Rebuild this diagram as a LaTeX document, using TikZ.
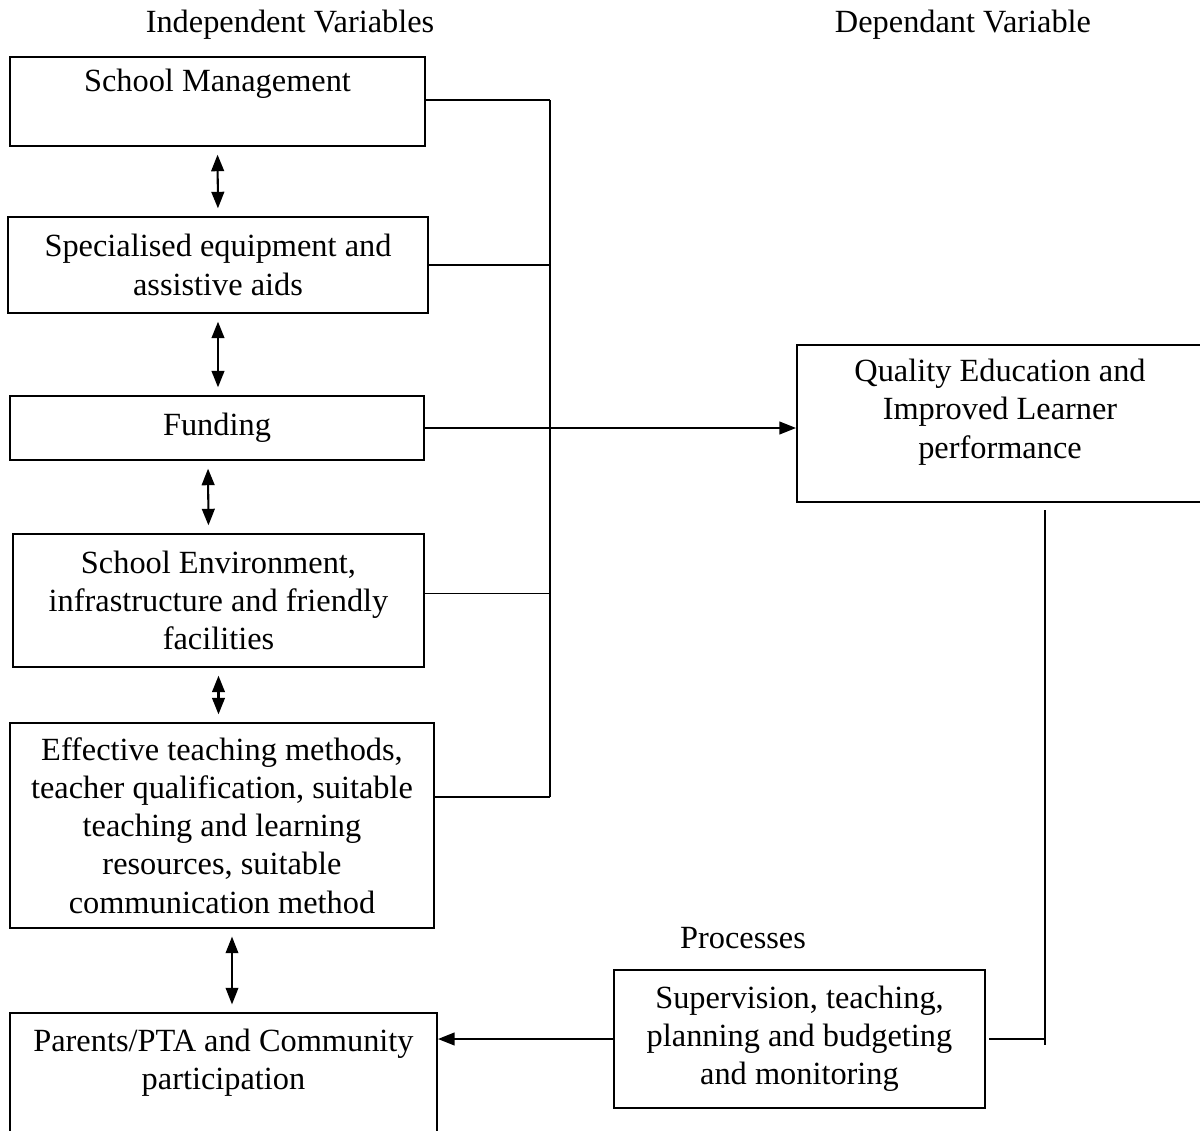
\documentclass[tikz,border=0pt]{standalone}
\usepackage{fontspec}
\setmainfont{Liberation Serif}
\usetikzlibrary{arrows.meta}

\def\pu{0.0138cm}

\tikzset{
	varbox/.style={draw, line width=0.8pt, inner sep=0pt, align=center},
	boxtext/.style={align=center, inner sep=0pt},
	link/.style={line width=0.6pt},
	duo/.style={line width=0.8pt, {Triangle[width=5pt,length=6.5pt]}-{Triangle[width=5pt,length=6.5pt]}, shorten >=3pt, shorten <=3pt},
	feed/.style={line width=0.7pt, -{Triangle[width=5pt,length=6.5pt]}}
}

\begin{document}
\begin{tikzpicture}[x=\pu, y=-\pu, font=\fontsize{12.7}{15}\selectfont]
\useasboundingbox (0,0) rectangle (1200,1131);

%Headings
\node[boxtext] (indep) at (290,25) {Independent Variables};
\node[boxtext] (dep) at (963,25) {Dependant Variable};
\node[boxtext] (proc) at (743,938) {Processes};

%Independent variables
\node[varbox, minimum width=415*\pu, minimum height=89*\pu] (sm) at (217.5,101.5) {};
\node[boxtext] (smtext) at (217.5,84) {School Management};
\node[varbox, minimum width=420*\pu, minimum height=96*\pu] (spec) at (218,265) {Specialised equipment and\\assistive aids};
\node[varbox, minimum width=414*\pu, minimum height=64*\pu] (fund) at (217,428) {Funding};
\node[varbox, minimum width=411*\pu, minimum height=133*\pu] (env) at (218.5,600.5) {School Environment,\\infrastructure and friendly\\facilities};
\node[varbox, minimum width=424*\pu, minimum height=205*\pu] (eff) at (222,825.5) {Effective teaching methods,\\teacher qualification, suitable\\teaching and learning\\resources, suitable\\communication method};
\node[varbox, minimum width=427*\pu, minimum height=122*\pu] (par) at (223.5,1074) {};
\node[boxtext] (partext) at (223.5,1062.5) {Parents/PTA and Community\\participation};

%Dependant variable and processes
\node[varbox, minimum width=408*\pu, minimum height=157*\pu] (qual) at (1001,423.5) {};
\node[boxtext] (qualtext) at (1000,412) {Quality Education and\\Improved Learner\\performance};
\node[varbox, minimum width=371*\pu, minimum height=138*\pu] (sup) at (799.5,1039) {Supervision, teaching,\\planning and budgeting\\and monitoring};

%Links between the independent variables
\draw[duo] (sm.south) -- (spec.north);
\draw[duo] (spec.south) -- (spec.south |- fund.north);
\draw[duo] ([xshift=-9*\pu]fund.south) -- ([xshift=-10*\pu]env.north);
\draw[duo] (env.south) -- (env.south |- eff.north);
\draw[duo, line width=0.6pt] ([xshift=10*\pu]eff.south) -- ([xshift=10*\pu]eff.south |- par.north);

%Bus to the dependant variable
\coordinate (bustop) at (550,100);
\coordinate (busbot) at (550,797);
\draw[link] (bustop) -- (busbot);
\draw[link] (sm.east |- bustop) -- (bustop);
\draw[link] (spec.east) -- (spec.east -| bustop);
\draw[link] ([yshift=7*\pu]env.east) -- ([yshift=7*\pu]env.east -| bustop);
\draw[link] (eff.east |- busbot) -- (busbot);
\draw[feed] (fund.east) -- (fund.east -| qual.west);

%Feedback through the processes
\coordinate (fbtop) at (1045,510);
\draw[link] (fbtop) -- ([yshift=-6*\pu]fbtop |- sup.east);
\draw[link] ([xshift=3*\pu]sup.east) -- (sup.east -| fbtop);
\draw[feed] (sup.west) -- (sup.west -| par.east);

\end{tikzpicture}
\end{document}
